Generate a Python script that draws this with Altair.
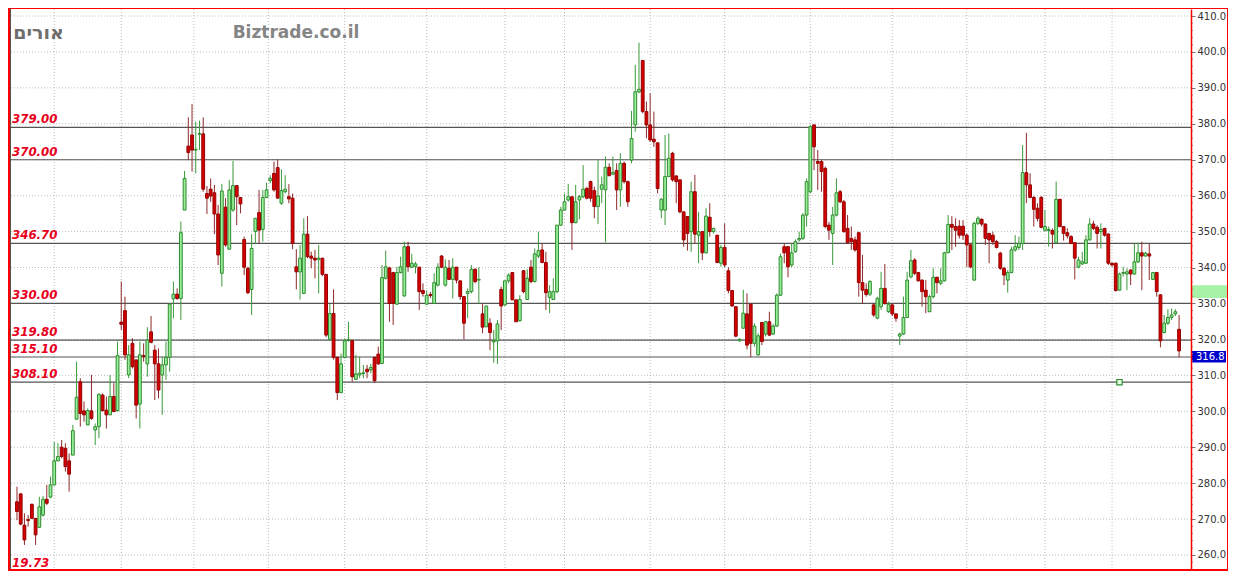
import altair as alt
import pandas as pd

# ---------------- data ----------------
opens = [274.8, 277.0, 268.3, 269.9, 274.1, 270.2, 267.7, 271.1, 275.5, 276.1,
         279.5, 286.2, 290.0, 289.7, 286.2, 287.8, 297.8, 308.2, 300.1, 296.2,
         300.1, 294.8, 295.7, 304.5, 300.3, 299.0, 304.1, 300.2, 324.8, 328.0,
         310.1, 318.9, 314.3, 302.0, 315.5, 313.2, 322.1, 317.0, 313.2, 310.1,
         312.9, 315.0, 331.3, 332.6, 331.4, 356.0, 373.8, 376.9, 372.7, 377.1,
         377.2, 360.6, 361.8, 360.8, 354.9, 338.4, 356.8, 345.1, 356.0, 362.8,
         359.5, 347.8, 339.8, 333.9, 350.0, 355.3, 350.6, 359.5, 364.2, 366.2,
         367.8, 357.9, 361.1, 359.7, 359.3, 340.2, 338.8, 332.8, 349.3, 343.2,
         342.6, 342.3, 342.6, 338.1, 320.0, 327.2, 315.0, 305.2, 315.0, 319.7,
         319.6, 308.9, 310.1, 310.5, 311.7, 311.5, 315.0, 315.9, 313.3, 337.0,
         339.9, 338.6, 329.8, 338.6, 332.1, 345.8, 340.1, 340.3, 340.1, 333.6,
         329.8, 332.5, 330.0, 335.1, 343.2, 335.1, 339.8, 336.7, 340.1, 336.3,
         331.9, 332.8, 333.3, 339.5, 336.5, 327.1, 323.5, 324.5, 319.3, 319.6,
         333.9, 329.6, 336.3, 338.6, 331.0, 325.2, 339.1, 331.1, 340.1, 336.1,
         343.2, 344.9, 341.4, 331.7, 331.1, 333.3, 351.8, 356.0, 358.8, 359.7,
         352.5, 358.8, 359.7, 362.0, 363.9, 361.4, 357.0, 361.8, 361.6, 367.9,
         366.0, 367.0, 361.6, 369.0, 363.9, 369.9, 379.7, 388.9, 397.6, 383.4,
         379.7, 375.7, 374.7, 356.0, 356.0, 365.3, 371.8, 365.5, 364.4, 355.5,
         354.2, 350.0, 361.1, 349.0, 350.0, 344.1, 354.0, 350.0, 349.0, 341.2,
         345.6, 339.1, 333.6, 329.1, 319.6, 323.1, 327.1, 329.8, 318.9, 315.7,
         324.7, 321.5, 324.9, 321.5, 323.7, 332.3, 345.8, 345.8, 340.7, 344.4,
         347.7, 348.1, 354.6, 361.1, 379.7, 369.5, 369.5, 367.6, 351.8, 349.5,
         354.6, 361.1, 358.3, 350.9, 348.1, 347.7, 349.7, 335.8, 333.9, 332.6,
         329.6, 325.9, 329.1, 334.2, 327.7, 329.6, 327.1, 320.9, 321.5, 326.1,
         337.4, 342.1, 338.6, 336.5, 333.7, 327.7, 331.9, 337.3, 335.6, 336.3,
         344.1, 352.0, 351.4, 351.5, 351.5, 349.0, 346.3, 336.5, 352.3, 353.4,
         352.1, 349.5, 349.0, 347.2, 344.0, 339.8, 336.5, 338.6, 344.9, 345.6,
         346.7, 366.4, 363.0, 359.5, 356.5, 359.5, 350.4, 350.3, 350.3, 346.9,
         359.0, 351.4, 349.7, 348.6, 346.9, 340.1, 341.0, 341.2, 347.7, 352.1,
         351.2, 350.0, 350.9, 349.3, 341.2, 341.2, 333.7, 338.4, 338.2, 339.3,
         338.2, 341.6, 344.1, 343.2, 343.8, 336.7, 338.6, 332.4, 321.9, 324.5,
         326.1, 327.1, 322.8]

highs = [279.0, 277.2, 271.6, 271.1, 274.3, 270.2, 276.2, 276.4, 279.5, 281.8,
         291.5, 291.1, 292.0, 291.1, 288.3, 296.2, 313.8, 309.2, 302.7, 300.8,
         310.1, 296.6, 305.0, 305.0, 304.1, 310.1, 307.8, 319.4, 336.1, 331.9,
         318.4, 320.3, 314.3, 319.4, 318.9, 323.4, 326.5, 318.4, 317.5, 315.2,
         319.4, 330.0, 336.1, 334.2, 352.8, 366.9, 381.8, 385.5, 380.6, 380.9,
         381.8, 362.7, 364.8, 363.0, 357.4, 363.3, 359.3, 364.4, 369.7, 362.8,
         359.5, 348.6, 340.2, 349.3, 353.7, 361.6, 361.6, 363.6, 365.7, 369.5,
         370.1, 367.3, 365.7, 363.2, 360.6, 345.1, 346.3, 353.7, 354.3, 344.4,
         344.9, 346.3, 342.7, 338.2, 329.8, 333.9, 315.2, 316.1, 320.3, 324.9,
         320.0, 315.7, 315.2, 312.9, 312.9, 313.2, 315.2, 318.0, 340.7, 344.7,
         340.2, 338.8, 340.2, 343.0, 347.2, 347.2, 343.8, 341.6, 340.1, 335.6,
         333.6, 333.2, 338.4, 341.2, 343.5, 342.3, 342.1, 342.6, 340.1, 336.3,
         331.9, 334.2, 340.7, 339.8, 340.1, 329.8, 329.3, 325.9, 322.6, 325.4,
         334.7, 336.3, 338.4, 338.6, 331.1, 332.3, 339.3, 339.5, 342.1, 345.3,
         350.0, 346.7, 344.4, 335.1, 337.0, 351.8, 356.9, 360.6, 363.3, 359.7,
         363.0, 360.2, 368.5, 362.5, 364.2, 362.5, 369.9, 365.3, 370.9, 369.0,
         370.9, 369.0, 371.8, 369.5, 364.2, 383.6, 396.4, 402.6, 397.8, 386.2,
         388.5, 383.4, 374.7, 359.3, 376.9, 377.3, 372.2, 365.5, 364.4, 355.5,
         354.2, 363.9, 365.8, 355.5, 350.0, 356.5, 357.9, 350.9, 349.0, 346.3,
         352.3, 340.1, 333.6, 329.1, 320.3, 333.8, 332.8, 329.8, 324.5, 321.7,
         324.7, 325.2, 327.7, 324.3, 332.8, 343.9, 346.7, 345.8, 346.7, 347.8,
         350.0, 355.1, 364.8, 379.7, 379.7, 372.7, 369.9, 368.1, 352.7, 356.9,
         364.8, 361.6, 358.8, 354.6, 351.4, 348.6, 350.0, 343.5, 335.6, 336.5,
         330.0, 331.9, 338.8, 341.0, 330.5, 330.0, 327.3, 321.9, 331.9, 338.8,
         344.9, 342.6, 338.8, 336.7, 336.5, 332.4, 339.8, 337.4, 339.8, 344.4,
         354.6, 354.3, 353.7, 353.2, 353.2, 349.5, 346.7, 352.8, 354.3, 353.7,
         352.3, 349.5, 350.0, 347.7, 344.4, 340.2, 339.3, 345.8, 349.0, 348.6,
         374.1, 377.5, 366.2, 359.9, 357.9, 359.9, 356.0, 351.4, 350.9, 363.9,
         359.0, 351.4, 350.9, 349.0, 346.9, 343.0, 344.4, 349.0, 353.7, 353.0,
         351.8, 352.3, 350.9, 349.5, 341.4, 341.4, 338.6, 340.2, 339.8, 339.5,
         346.7, 346.9, 347.2, 344.4, 346.7, 338.8, 338.8, 332.6, 326.8, 328.4,
         328.6, 328.4, 326.8]

lows = [269.7, 268.3, 262.8, 267.9, 270.0, 262.8, 267.5, 270.7, 273.9, 275.8,
        279.4, 286.0, 286.9, 283.2, 277.6, 287.8, 297.6, 295.7, 297.1, 296.2,
        297.6, 290.6, 292.5, 299.9, 295.2, 299.0, 299.9, 299.9, 322.6, 314.3,
        309.2, 311.9, 298.0, 295.2, 313.8, 309.6, 318.9, 303.1, 303.6, 299.0,
        308.7, 311.0, 325.9, 331.0, 325.4, 356.0, 369.9, 366.7, 366.2, 372.7,
        361.1, 354.9, 358.3, 349.3, 340.7, 334.7, 345.8, 344.9, 355.5, 351.8,
        355.1, 337.9, 332.6, 326.8, 346.7, 346.7, 347.2, 359.3, 363.4, 361.1,
        359.3, 357.4, 360.6, 357.9, 345.1, 333.9, 331.1, 332.6, 342.6, 339.8,
        337.0, 332.8, 337.6, 320.6, 320.0, 314.4, 303.1, 305.0, 314.7, 319.4,
        308.2, 308.7, 309.2, 309.2, 309.2, 310.6, 307.9, 312.9, 313.1, 336.7,
        324.9, 324.0, 329.6, 338.4, 331.9, 338.8, 339.8, 338.4, 328.2, 331.9,
        329.6, 331.5, 329.8, 334.7, 339.8, 334.7, 336.5, 331.4, 335.6, 331.0,
        320.0, 325.9, 332.8, 335.6, 330.0, 321.7, 323.4, 317.0, 313.5, 313.2,
        322.6, 329.3, 335.6, 331.0, 324.9, 324.9, 332.8, 331.0, 335.6, 335.8,
        342.6, 341.2, 328.2, 327.3, 331.0, 332.8, 351.6, 355.8, 358.3, 344.9,
        352.3, 353.4, 359.3, 359.0, 358.3, 353.7, 352.1, 357.9, 347.0, 365.3,
        365.7, 356.0, 356.9, 363.4, 356.9, 369.0, 377.8, 388.5, 382.9, 376.0,
        375.0, 373.6, 360.6, 353.7, 351.8, 365.3, 363.9, 357.9, 355.1, 345.8,
        344.7, 344.4, 346.7, 341.2, 342.1, 343.9, 348.6, 349.5, 341.2, 340.2,
        340.1, 332.8, 329.1, 320.6, 319.4, 323.1, 317.2, 315.0, 318.0, 315.4,
        318.4, 320.8, 320.9, 321.2, 323.5, 332.1, 341.2, 337.3, 340.1, 344.1,
        347.2, 347.7, 351.4, 360.6, 367.1, 361.6, 361.1, 350.9, 347.7, 340.7,
        354.2, 357.9, 349.7, 346.7, 344.9, 344.4, 331.9, 330.0, 331.9, 332.1,
        326.3, 325.6, 328.2, 329.6, 327.4, 326.5, 324.9, 318.4, 321.2, 325.9,
        337.0, 337.9, 336.1, 329.1, 327.3, 327.6, 331.4, 332.8, 335.1, 336.1,
        344.0, 344.9, 345.8, 348.1, 347.7, 340.2, 339.8, 336.3, 351.8, 351.4,
        346.3, 341.2, 346.3, 345.3, 339.3, 335.1, 333.0, 338.4, 344.4, 344.9,
        344.9, 357.9, 359.3, 351.4, 352.8, 350.9, 350.0, 345.8, 345.3, 346.7,
        351.2, 347.5, 348.1, 346.5, 336.7, 339.8, 340.7, 341.0, 347.5, 350.4,
        345.3, 345.3, 348.6, 340.7, 340.2, 333.3, 333.6, 337.5, 333.7, 335.1,
        337.9, 341.2, 333.7, 343.0, 336.5, 336.5, 331.9, 317.8, 321.7, 324.0,
        325.4, 326.5, 315.0]

closes = [272.1, 268.6, 264.2, 269.6, 270.2, 265.6, 273.4, 275.5, 274.4, 279.5,
          286.2, 287.4, 287.4, 284.6, 282.5, 294.6, 303.9, 299.4, 299.0, 300.2,
          298.0, 295.7, 304.7, 300.2, 299.0, 304.1, 299.9, 315.5, 324.2, 315.7,
          315.7, 312.4, 301.7, 315.7, 315.3, 319.8, 319.2, 313.2, 305.9, 312.9,
          315.0, 329.8, 332.6, 331.4, 349.7, 364.8, 372.0, 372.7, 372.9, 377.3,
          361.8, 359.3, 359.9, 354.9, 343.5, 361.3, 346.3, 361.6, 362.8, 359.7,
          357.7, 340.1, 333.0, 345.3, 353.7, 350.4, 359.5, 361.6, 364.8, 361.6,
          359.3, 361.4, 361.8, 359.1, 346.7, 338.8, 342.6, 349.3, 343.0, 342.6,
          342.1, 342.6, 338.1, 321.2, 327.2, 315.0, 305.2, 313.2, 319.6, 319.9,
          309.6, 310.4, 310.6, 310.7, 311.0, 312.2, 308.5, 313.2, 337.2, 340.2,
          330.0, 330.0, 338.6, 340.2, 345.8, 340.2, 341.2, 341.0, 333.3, 332.8,
          332.3, 332.2, 335.8, 340.1, 340.1, 340.1, 336.7, 340.1, 336.5, 331.9,
          324.5, 333.3, 339.5, 336.1, 336.7, 323.4, 329.3, 321.9, 319.6, 324.3,
          329.3, 336.3, 337.9, 331.0, 324.9, 331.1, 333.3, 337.0, 336.1, 343.8,
          344.7, 341.4, 333.0, 333.3, 333.3, 351.8, 356.0, 358.3, 359.7, 352.5,
          358.3, 359.7, 361.8, 359.3, 359.3, 357.0, 359.9, 363.0, 367.9, 365.6,
          366.4, 361.6, 369.0, 363.9, 358.3, 375.9, 388.9, 389.6, 383.4, 379.7,
          375.5, 375.0, 362.0, 359.0, 365.3, 370.4, 364.4, 363.9, 355.5, 347.7,
          349.5, 361.1, 349.3, 350.0, 344.1, 354.3, 350.0, 350.9, 341.4, 345.6,
          340.7, 333.6, 329.3, 320.9, 320.0, 327.3, 318.4, 318.9, 323.7, 321.0,
          319.4, 324.9, 321.2, 323.7, 332.3, 343.0, 344.1, 340.2, 344.1, 347.2,
          348.1, 354.6, 363.9, 379.2, 373.6, 369.0, 366.7, 351.4, 350.4, 354.6,
          360.8, 358.3, 350.0, 346.9, 347.2, 344.9, 335.8, 333.7, 332.5, 336.1,
          326.8, 331.4, 334.2, 330.0, 329.8, 327.1, 325.9, 321.5, 326.1, 336.5,
          341.9, 338.4, 336.3, 333.3, 331.9, 331.9, 337.3, 335.8, 336.3, 344.1,
          352.0, 351.2, 350.4, 349.0, 349.0, 346.3, 340.2, 352.3, 353.7, 352.1,
          348.1, 347.7, 347.2, 345.6, 339.8, 337.9, 338.6, 344.9, 345.8, 346.7,
          366.4, 363.0, 359.5, 356.2, 353.7, 351.2, 351.4, 350.6, 349.3, 359.0,
          351.4, 349.5, 348.8, 346.7, 342.6, 342.1, 341.6, 347.7, 352.1, 350.9,
          349.5, 350.6, 349.0, 341.2, 340.7, 333.6, 338.2, 338.6, 338.8, 338.2,
          341.6, 344.1, 343.2, 344.0, 343.2, 338.6, 333.3, 319.6, 324.5, 326.1,
          326.8, 327.7, 316.8]

levels = [379.0, 370.0, 346.7, 330.0, 319.8, 315.1, 308.1]
level_labels = ["379.00", "370.00", "346.70", "330.00", "319.80", "315.10", "308.10"]
grid_prices = list(range(260, 411, 10))
minor_prices = [v for v in range(258, 412, 2) if v % 10 != 0]
month_starts = [10, 28, 47.5, 67.5, 88, 110, 131, 147, 170, 190, 213, 235, 255, 276, 294]
last_price = 316.8
band_high, band_low = 335.1, 331.5
alert_day, alert_price = 296, 308.1
title_text = "אורים"
site_text = "Biztrade.co.il"
corner_text = "19.73"

# ---------------- chart ----------------
W, H = 1181, 560
N = len(closes)
df = pd.DataFrame({
    "day": list(range(N)),
    "open": opens, "high": highs, "low": lows, "close": closes,
})
df["dir"] = ["up" if c >= o else "down" for o, c in zip(opens, closes)]

x_scale = alt.Scale(domain=[-0.53, 313.86], nice=False, zero=False)
y_scale = alt.Scale(domain=[256.1, 411.95], nice=False, zero=False)
FONT = "DejaVu Sans"

y_axis = alt.Axis(orient="right", values=grid_prices, format=".1f", title=None,
                  labelFont=FONT, labelFontSize=10, labelColor="#333333",
                  domainColor="#ff0000", domainWidth=1.5, tickColor="#777777",
                  tickSize=4, labelPadding=2, grid=False, zindex=1,
                  labelFlush=False)


def Y(field):
    return alt.Y(field, scale=y_scale, axis=y_axis)


def X(field):
    return alt.X(field, scale=x_scale, axis=None)


one = pd.DataFrame({"a": [0]})

axis_bg = alt.Chart(one).mark_rect(color="white").encode(
    x=alt.value(W), x2=alt.value(W + 36), y=alt.value(0), y2=alt.value(H))

hgrid = alt.Chart(pd.DataFrame({"p": grid_prices})).mark_rule(
    color="#bcbcbc", strokeDash=[1, 2], strokeWidth=1).encode(y=Y("p:Q"))

vgrid = alt.Chart(pd.DataFrame({"d": month_starts})).mark_rule(
    color="#bcbcbc", strokeDash=[1, 2], strokeWidth=1).encode(x=X("d:Q"))

level_df = pd.DataFrame({"lv": levels, "lab": level_labels})
level_lines = alt.Chart(level_df).mark_rule(color="#555555", strokeWidth=1.2).encode(
    y=Y("lv:Q"))

dir_wick = alt.Scale(domain=["up", "down"], range=["#3a9a3a", "#8e2a2a"])
dir_fill = alt.Scale(domain=["up", "down"], range=["#98ee98", "#d40000"])
dir_stroke = alt.Scale(domain=["up", "down"], range=["#2e8b2e", "#960000"])

wicks = alt.Chart(df).mark_rule(strokeWidth=1).encode(
    x=X("day:Q"), y=Y("low:Q"), y2="high:Q",
    color=alt.Color("dir:N", scale=dir_wick, legend=None))

bodies = alt.Chart(df).mark_bar(size=2.8, strokeWidth=1).encode(
    x=X("day:Q"), y=Y("open:Q"), y2="close:Q",
    fill=alt.Fill("dir:N", scale=dir_fill, legend=None),
    stroke=alt.Stroke("dir:N", scale=dir_stroke, legend=None))

level_text = alt.Chart(level_df).mark_text(
    align="left", baseline="middle", dy=-8, font=FONT, fontSize=11.8,
    fontWeight="bold", fontStyle="italic", color="#e8001c").encode(
    x=alt.value(2), y=Y("lv:Q"), text="lab:N")

corner = alt.Chart(one).mark_text(
    align="left", baseline="middle", font=FONT, fontSize=11.8,
    fontWeight="bold", fontStyle="italic", color="#e8001c", text=corner_text).encode(
    x=alt.value(2), y=alt.value(554))

title = alt.Chart(one).mark_text(
    align="center", baseline="middle", font=FONT, fontSize=19, fontWeight="bold",
    color="#6f6f6f", text=title_text).encode(x=alt.value(28.5), y=alt.value(24))

site = alt.Chart(one).mark_text(
    align="center", baseline="middle", font=FONT, fontSize=17, fontWeight="bold",
    color="#858585", text=site_text).encode(x=alt.value(286), y=alt.value(24))

band = alt.Chart(pd.DataFrame({"hi": [band_high], "lo": [band_low]})).mark_rect(
    color="#a8f2a8").encode(
    x=alt.value(W + 1), x2=alt.value(W + 36), y=Y("hi:Q"), y2="lo:Q")

price_df = pd.DataFrame({"p": [last_price], "lab": [f"{last_price:.1f}"]})
price_box = alt.Chart(price_df).transform_calculate(lo="datum.p - 3.2").mark_rect(
    color="#0000cc").encode(
    x=alt.value(W + 1), x2=alt.value(W + 35), y=Y("p:Q"), y2="lo:Q")
price_text = alt.Chart(price_df).mark_text(
    align="left", baseline="top", dy=1, font=FONT, fontSize=10, color="white").encode(
    x=alt.value(W + 5), y=Y("p:Q"), text="lab:N")

minor = alt.Chart(pd.DataFrame({"m": minor_prices})).mark_rule(
    color="#999999", strokeWidth=1).encode(
    x=alt.value(W), x2=alt.value(W + 2), y=Y("m:Q"))

alert = alt.Chart(pd.DataFrame({"d": [alert_day], "p": [alert_price]})).mark_point(
    shape="square", filled=True, fill="#e6ffe6", stroke="#2e8b2e", strokeWidth=1.2,
    size=28, opacity=1).encode(x=X("d:Q"), y=Y("p:Q"))

left_edge = alt.Chart(one).mark_rule(color="#555555", strokeWidth=1).encode(
    x=alt.value(0.5), y=alt.value(0), y2=alt.value(H))

chart = alt.layer(
    axis_bg, hgrid, vgrid, level_lines, wicks, bodies, level_text, corner,
    title, site, band, price_box, price_text, minor, alert, left_edge
).properties(
    width=W, height=H,
    padding={"left": 2, "top": 1, "right": 37, "bottom": 2},
    autosize=alt.AutoSizeParams(type="none"),
    background="#ff0000",
).configure_view(fill="white", stroke=None)

chart.save("out.html", embed_options={"renderer": "svg", "actions": False})
